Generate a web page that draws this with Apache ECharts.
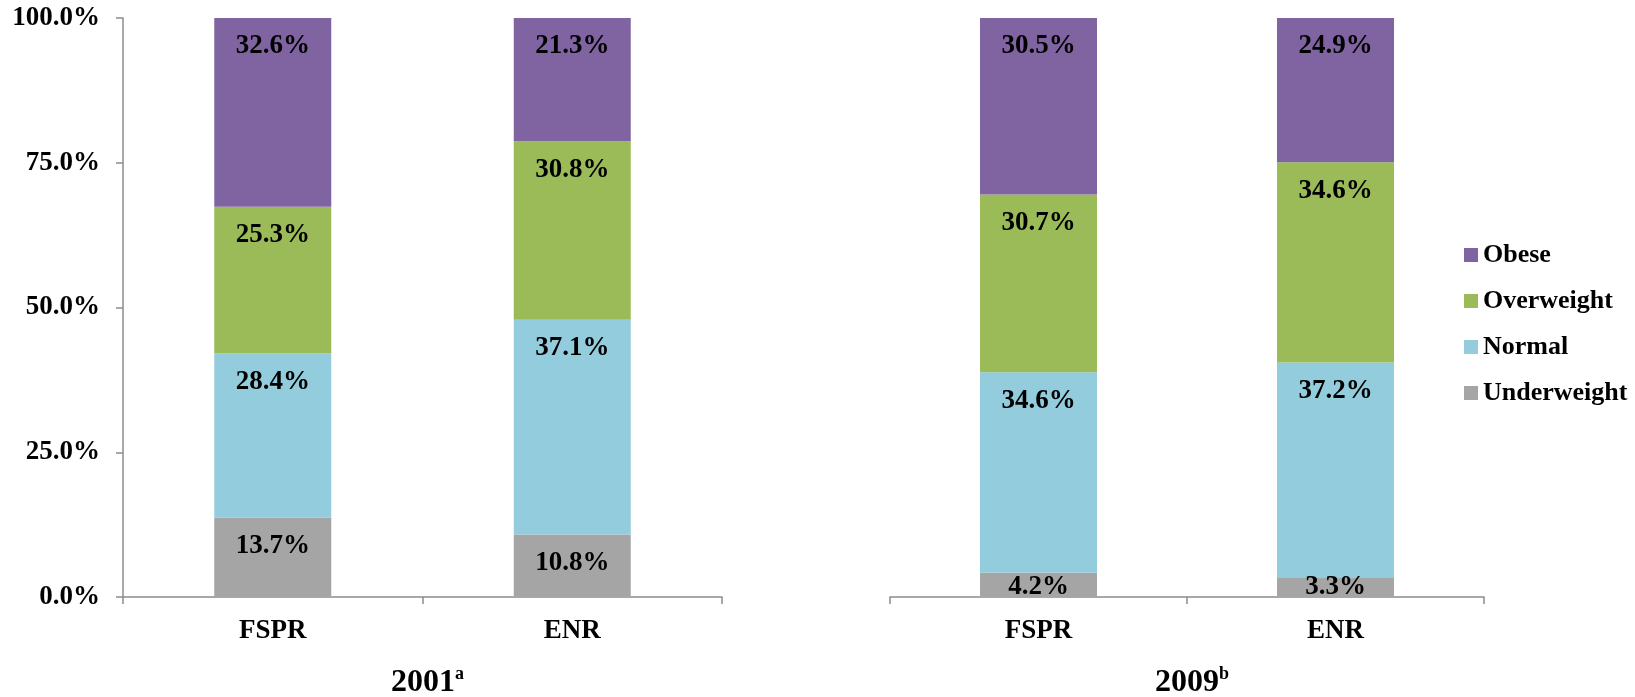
<!DOCTYPE html>
<html>
<head>
<meta charset="utf-8">
<title>BMI categories by group, 2001 and 2009</title>
<script src="https://cdn.jsdelivr.net/npm/echarts@6/dist/echarts.min.js"></script>
<style>
  html, body { margin: 0; padding: 0; background: #ffffff; }
  #chart { width: 1635px; height: 697px; }
</style>
</head>
<body>
<div id="chart"></div>
<script>
// Groups on each panel's category axis
const categories = ['FSPR', 'ENR'];

// Panel captions (year + footnote marker)
const panelYears = ['2001', '2009'];
const panelNotes = ['a', 'b'];

// Share of each BMI class, percent (2001 panel)
const underweight2001 = [13.7, 10.8];
const normal2001      = [28.4, 37.1];
const overweight2001  = [25.3, 30.8];
const obese2001       = [32.6, 21.3];

// Share of each BMI class, percent (2009 panel)
const underweight2009 = [4.2, 3.3];
const normal2009      = [34.6, 37.2];
const overweight2009  = [30.7, 34.6];
const obese2009       = [30.5, 24.9];

// Value axis range
const yMin = 0;
const yMax = 100;
const yStep = 25;

const classNames = ['Underweight', 'Normal', 'Overweight', 'Obese'];
const classColors = {
  Underweight: '#A5A5A5',
  Normal: '#93CDDD',
  Overweight: '#9BBB59',
  Obese: '#8064A2'
};

const FONT = '"Liberation Serif", "Times New Roman", serif';
const AXIS_GREY = '#8C8C8C';

const panels = [
  [underweight2001, normal2001, overweight2001, obese2001],
  [underweight2009, normal2009, overweight2009, obese2009]
];

const grids = [
  { left: 123, top: 18, width: 599, height: 579 },
  { left: 890, top: 18, width: 594, height: 579 }
];

function makeSeries(panelIdx) {
  return panels[panelIdx].map(function (values, k) {
    const name = classNames[k];
    return {
      name: name,
      type: 'bar',
      stack: 'panel' + panelIdx,
      xAxisIndex: panelIdx,
      yAxisIndex: panelIdx,
      barWidth: 117,
      itemStyle: { color: classColors[name] },
      data: values.map(function (v) {
        // thin segments keep their label resting on the bar's base
        const small = v < 8;
        return {
          value: v,
          label: small
            ? { position: 'insideBottom', distance: -4 }
            : { position: 'insideTop', distance: 15 }
        };
      }),
      label: {
        show: true,
        color: '#000000',
        fontFamily: FONT,
        fontWeight: 'bold',
        fontSize: 27,
        formatter: function (p) { return p.value.toFixed(1) + '%'; }
      }
    };
  });
}

function makeXAxis(i) {
  return {
    type: 'category',
    gridIndex: i,
    data: categories,
    axisLine: { show: true, lineStyle: { color: AXIS_GREY, width: 1.5 } },
    axisTick: { show: true, length: 7, lineStyle: { color: AXIS_GREY, width: 1.5 } },
    axisLabel: {
      color: '#000000',
      fontFamily: FONT,
      fontWeight: 'bold',
      fontSize: 27,
      margin: 21
    }
  };
}

function makeCaption(i) {
  const g = grids[i];
  return {
    text: '{y|' + panelYears[i] + '}{s|' + panelNotes[i] + '}',
    left: g.left + g.width / 2,
    top: 660,
    textAlign: 'center',
    textStyle: {
      rich: {
        y: { fontFamily: FONT, fontWeight: 'bold', fontSize: 32, color: '#000000', lineHeight: 36 },
        s: { fontFamily: FONT, fontWeight: 'bold', fontSize: 18, color: '#000000', verticalAlign: 'top', lineHeight: 36, padding: [0, 0, 15, 0] }
      }
    }
  };
}

const chart = echarts.init(document.getElementById('chart'), null, { renderer: 'canvas' });

chart.setOption({
  animation: false,
  backgroundColor: '#ffffff',
  title: [makeCaption(0), makeCaption(1)],
  legend: {
    orient: 'vertical',
    left: 1459,
    top: 237,
    itemWidth: 14,
    itemHeight: 14,
    itemGap: 20,
    icon: 'rect',
    data: ['Obese', 'Overweight', 'Normal', 'Underweight'],
    textStyle: {
      color: '#000000',
      fontFamily: FONT,
      fontWeight: 'bold',
      fontSize: 26
    }
  },
  grid: grids,
  xAxis: [makeXAxis(0), makeXAxis(1)],
  yAxis: [
    {
      type: 'value',
      gridIndex: 0,
      min: yMin,
      max: yMax,
      interval: yStep,
      splitLine: { show: false },
      axisLine: { show: true, lineStyle: { color: AXIS_GREY, width: 1.5 } },
      axisTick: { show: true, length: 7, lineStyle: { color: AXIS_GREY, width: 1.5 } },
      axisLabel: {
        color: '#000000',
        fontFamily: FONT,
        fontWeight: 'bold',
        fontSize: 27,
        margin: 23,
        formatter: function (v) { return v.toFixed(1) + '%'; }
      }
    },
    {
      type: 'value',
      gridIndex: 1,
      min: yMin,
      max: yMax,
      interval: yStep,
      show: false,
      splitLine: { show: false }
    }
  ],
  series: makeSeries(0).concat(makeSeries(1))
});
</script>
</body>
</html>
